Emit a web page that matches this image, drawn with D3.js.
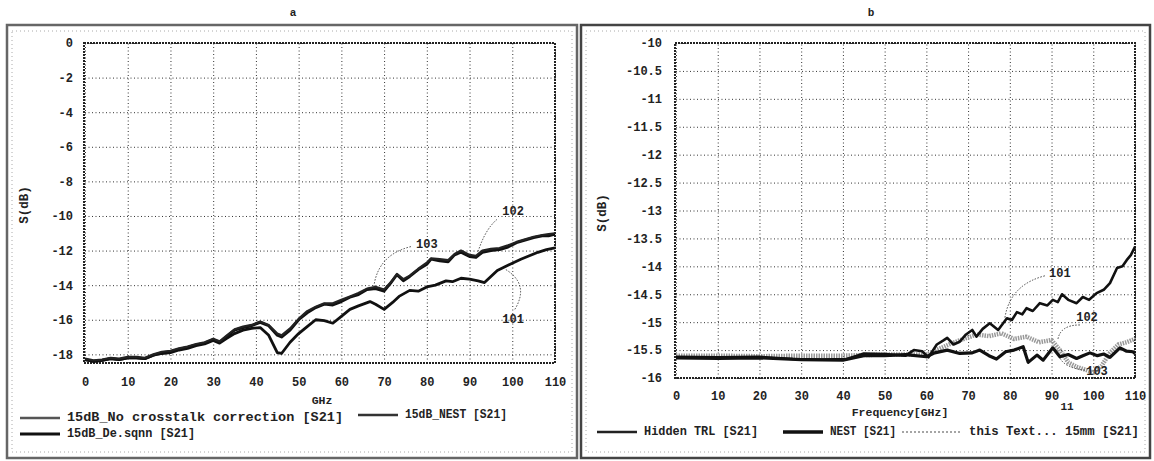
<!DOCTYPE html>
<html>
<head>
<meta charset="utf-8">
<script src="https://cdn.jsdelivr.net/npm/d3@7"></script>
<style>
  body { margin: 0; background: #fff; }
  svg { display: block; }
  text { font-family: "Liberation Mono", "DejaVu Sans Mono", monospace; fill: #222; }
</style>
</head>
<body>
<svg id="fig" width="1154" height="461"></svg>
<script>
// ---- left panel data (frequency GHz, S21 dB) ----
const leftXTicks = [0, 10, 20, 30, 40, 50, 60, 70, 80, 90, 100, 110];
const leftYTicks = [0, -2, -4, -6, -8, -10, -12, -14, -16, -18];

const noCrosstalk = [
  [0,-18.3],[2,-18.4],[4,-18.35],[6,-18.25],[8,-18.3],[10,-18.2],[12,-18.2],[14,-18.25],
  [16,-18.05],[18,-17.9],[20,-17.85],[22,-17.7],[24,-17.6],[26,-17.45],[28,-17.35],[30,-17.15],
  [31.5,-17.3],[33,-17.0],[35,-16.6],[37,-16.45],[39,-16.35],[41,-16.15],[43,-16.35],[45,-16.9],
  [46,-17.0],[48,-16.6],[50,-16.0],[52,-15.6],[54,-15.3],[56,-15.1],[58,-15.15],[60,-14.95],
  [62,-14.7],[64,-14.55],[66,-14.25],[68,-14.2],[70,-14.35],[71.5,-13.9],[73,-13.4],[74.5,-13.75],
  [76,-13.5],[78,-13.1],[80,-12.8],[81,-12.5],[83,-12.6],[85,-12.65],[86.5,-12.25],[88,-12.1],
  [90,-12.35],[91.5,-12.4],[93,-12.1],[95,-12.0],[97,-11.95],[99,-11.8],[101,-11.55],[103,-11.4],
  [105,-11.25],[107,-11.15],[108.5,-11.15],[110,-11.05]
];
const deSqnn = [
  [0,-18.25],[2,-18.35],[4,-18.3],[6,-18.2],[8,-18.25],[10,-18.15],[12,-18.15],[14,-18.2],
  [16,-18.0],[18,-17.85],[20,-17.8],[22,-17.65],[24,-17.55],[26,-17.4],[28,-17.3],[30,-17.1],
  [31.5,-17.25],[33,-16.95],[35,-16.55],[37,-16.4],[39,-16.3],[41,-16.1],[43,-16.3],[45,-16.8],
  [46,-16.9],[48,-16.5],[50,-15.95],[52,-15.5],[54,-15.25],[56,-15.05],[58,-15.05],[60,-14.85],
  [62,-14.65],[64,-14.45],[66,-14.2],[68,-14.1],[70,-14.25],[71.5,-13.85],[73,-13.35],[74.5,-13.65],
  [76,-13.45],[78,-13.05],[80,-12.7],[81,-12.45],[83,-12.5],[85,-12.55],[86.5,-12.2],[88,-12.0],
  [90,-12.25],[91.5,-12.3],[93,-12.0],[95,-11.9],[97,-11.85],[99,-11.7],[101,-11.5],[103,-11.35],
  [105,-11.2],[107,-11.1],[108.5,-11.05],[110,-11.0]
];
const nest = [
  [0,-18.3],[2,-18.4],[4,-18.35],[6,-18.25],[8,-18.3],[10,-18.2],[12,-18.2],[14,-18.25],
  [16,-18.05],[18,-17.95],[20,-17.9],[22,-17.75],[24,-17.65],[26,-17.5],[28,-17.4],[30,-17.2],
  [31.5,-17.35],[33,-17.1],[35,-16.8],[37,-16.6],[39,-16.5],[41,-16.45],[43,-16.9],[45,-17.9],
  [46,-17.95],[48,-17.3],[50,-16.8],[52,-16.4],[54,-16.0],[56,-16.05],[58,-16.2],[60,-15.8],
  [62,-15.4],[64,-15.2],[66.7,-14.95],[68,-15.1],[70,-15.4],[72,-15.0],[73.5,-14.65],[76,-14.3],
  [78,-14.35],[80,-14.1],[82,-14.0],[84.5,-13.75],[86,-13.8],[88,-13.6],[90,-13.65],[92,-13.75],
  [93.5,-13.85],[95,-13.5],[96.5,-13.15],[99,-12.85],[102,-12.5],[104,-12.3],[106,-12.1],
  [108,-11.95],[110,-11.85]
];
const leftLabels = ["15dB_No crosstalk correction [S21]", "15dB_De.sqnn [S21]", "15dB_NEST [S21]"];
// label text, label pos, leader start, control, end (data units)
const leftNotes = [
  {t: "102", at: [100.2,-9.75], p: [[96.4,-10.2],[93.6,-10.8],[92,-12.06]]},
  {t: "103", at: [80,-11.65], p: [[76.3,-11.77],[68.6,-12.23],[67.6,-14.08]]},
  {t: "101", at: [100.2,-15.98], p: [[98.5,-13.1],[104.1,-13.96],[100.6,-15.4]]}
];

// ---- right panel data ----
const rightXTicks = [0, 10, 20, 30, 40, 50, 60, 70, 80, 90, 100, 110];
const rightYTicks = [-10, -10.5, -11, -11.5, -12, -12.5, -13, -13.5, -14, -14.5, -15, -15.5, -16];

const hiddenTrl = [
  [0,-15.62],[10,-15.63],[20,-15.62],[28,-15.66],[35,-15.67],[41,-15.66],[45,-15.56],[50,-15.57],
  [55,-15.6],[57,-15.5],[59,-15.52],[60.5,-15.63],[62.5,-15.4],[64,-15.33],[65,-15.28],[66.5,-15.4],
  [68,-15.35],[69.5,-15.22],[71,-15.14],[72,-15.26],[73.5,-15.12],[75.2,-15.02],[77.2,-15.14],
  [79.3,-14.93],[80.5,-14.96],[81.7,-14.82],[83,-14.86],[84,-14.75],[85.5,-14.8],[87.2,-14.66],
  [89,-14.7],[90.3,-14.6],[91.5,-14.64],[92.5,-14.5],[94,-14.6],[96,-14.66],[97.5,-14.55],
  [99,-14.6],[100.8,-14.48],[102.5,-14.42],[104,-14.3],[105.7,-14.03],[107,-14.0],[108,-13.89],
  [109,-13.8],[110,-13.65]
];
const nestRight = [
  [0,-15.64],[10,-15.65],[20,-15.64],[30,-15.67],[40,-15.68],[45,-15.6],[50,-15.6],[55,-15.58],
  [60,-15.62],[62,-15.55],[65,-15.5],[68,-15.56],[71,-15.55],[72.8,-15.5],[75,-15.6],[76.8,-15.66],
  [79,-15.53],[81,-15.5],[83.2,-15.44],[84.4,-15.72],[86.5,-15.59],[88,-15.68],[90.3,-15.46],
  [92,-15.62],[94,-15.58],[96,-15.65],[97.5,-15.6],[99.2,-15.55],[101,-15.6],[102.5,-15.57],
  [104,-15.63],[106.4,-15.46],[108,-15.52],[109.5,-15.53],[110,-15.56]
];
const thruTest = [
  [0,-15.6],[10,-15.6],[20,-15.61],[30,-15.6],[40,-15.6],[50,-15.58],[60,-15.58],[63,-15.48],
  [66,-15.38],[69,-15.3],[72,-15.22],[75,-15.25],[78,-15.2],[81,-15.3],[84,-15.26],[87,-15.36],
  [90,-15.32],[92,-15.5],[94,-15.72],[96,-15.8],[98,-15.85],[100,-15.9],[102,-15.78],[104,-15.55],
  [106,-15.4],[108,-15.36],[110,-15.3]
];
const rightLabels = ["Hidden TRL [S21]", "NEST [S21]", "this Text... 15mm [S21]"];
const rightNotes = [
  {t: "101", at: [92,-14.14], p: [[88.4,-14.17],[80,-14.33],[78.8,-14.93]]},
  {t: "102", at: [98.5,-14.93], p: [[96.8,-15.05],[92,-15.05],[91.5,-15.32]]},
  {t: "103", at: [100.9,-15.89], p: [[98,-15.86],[93.2,-15.82],[92,-15.64]]}
];

const svg = d3.select('#fig');

// outer frames
function frame(x0, y0, x1, y1, dark) {
  svg.append('rect')
    .attr('x', x0).attr('y', y0).attr('width', x1 - x0).attr('height', y1 - y0)
    .attr('fill', 'none').attr('stroke', dark).attr('stroke-width', 2.5);
  svg.append('rect')
    .attr('x', x0 + 5).attr('y', y0 + 6).attr('width', x1 - x0 - 10).attr('height', y1 - y0 - 12)
    .attr('fill', 'none').attr('stroke', '#aaa').attr('stroke-width', 1)
    .attr('stroke-dasharray', '1,3');
}
frame(7, 25, 577, 458, '#666');
frame(581, 25, 1150, 458, '#444');

function drawPanel(o) {
  let xScale = d3.scaleLinear().domain([0, 110]).range([o.left, o.right]);
  let yScale = d3.scaleLinear().domain(o.yDomain).range([o.bottom, o.top]);
  let w = o.right - o.left, h = o.bottom - o.top;

  // grid via axes
  let gx = svg.append('g')
    .attr('transform', `translate(0,${o.bottom})`)
    .call(d3.axisBottom(xScale).tickValues(o.xTicks).tickSize(-h).tickPadding(o.xPad)
      .tickFormat(d => String(d)));
  let gy = svg.append('g')
    .attr('transform', `translate(${o.left},0)`)
    .call(d3.axisLeft(yScale).tickValues(o.yTicks).tickSize(-w).tickPadding(o.yPad)
      .tickFormat(d => String(d)));
  [gx, gy].forEach(g => {
    g.select('.domain').remove();
    g.selectAll('line').attr('stroke', '#333').attr('stroke-width', 1).attr('stroke-dasharray', '1,2.5');
    g.selectAll('text').attr('font-size', 12).attr('font-weight', 'bold')
      .attr('font-family', '"Liberation Mono", monospace').attr('fill', '#333');
  });

  // plot frame
  svg.append('rect')
    .attr('x', o.left - 1).attr('y', o.top).attr('width', w + 1).attr('height', h)
    .attr('fill', 'none').attr('stroke', '#222').attr('stroke-width', 2)
    .attr('stroke-dasharray', '2,1');

  let line = d3.line().x(d => xScale(d[0])).y(d => yScale(d[1])).curve(d3.curveLinear);
  o.series.forEach(s => {
    svg.append('path').datum(s.data)
      .attr('fill', 'none').attr('stroke', s.color).attr('stroke-width', s.width)
      .attr('stroke-dasharray', s.dash || null)
      .attr('stroke-linejoin', 'round')
      .attr('d', line);
  });

  // leaders and reference numerals
  o.notes.forEach(n => {
    let p = n.p.map(q => [xScale(q[0]), yScale(q[1])]);
    let path = d3.path();
    path.moveTo(p[0][0], p[0][1]);
    path.quadraticCurveTo(p[1][0], p[1][1], p[2][0], p[2][1]);
    svg.append('path').attr('d', path.toString())
      .attr('fill', 'none').attr('stroke', '#444').attr('stroke-width', 1)
      .attr('stroke-dasharray', '1.5,1.5');
    svg.append('text')
      .attr('x', xScale(n.at[0])).attr('y', yScale(n.at[1]))
      .attr('text-anchor', 'middle').attr('dominant-baseline', 'middle')
      .attr('font-size', 12).attr('font-weight', 'bold').attr('fill', '#444').text(n.t);
  });

  // axis titles
  svg.append('text')
    .attr('transform', `translate(${o.yLabelX},${o.yLabelY}) rotate(-90)`)
    .attr('text-anchor', 'middle').attr('dominant-baseline', 'middle')
    .attr('font-size', 12.5).attr('font-weight', 'bold').attr('fill', '#333').text('S(dB)');
  svg.append('text')
    .attr('x', o.xLabelX).attr('y', o.xLabelY)
    .attr('text-anchor', 'middle').attr('dominant-baseline', 'middle')
    .attr('font-size', 11.5).attr('font-weight', 'bold').attr('fill', '#333').text(o.xLabel);
  svg.append('text')
    .attr('x', o.titleX).attr('y', 13)
    .attr('text-anchor', 'middle').attr('dominant-baseline', 'middle')
    .attr('font-size', 11).attr('font-weight', 'bold').text(o.title);
}

drawPanel({
  left: 85, right: 555, top: 43, bottom: 363, yDomain: [-18.5, 0],
  xTicks: leftXTicks, yTicks: leftYTicks, xPad: 14, yPad: 12,
  series: [
    {data: nest, color: '#111', width: 2.8},
    {data: noCrosstalk, color: '#111', width: 2.8},
    {data: deSqnn, color: '#222', width: 2.2}
  ],
  notes: leftNotes,
  yLabelX: 25, yLabelY: 205, xLabelX: 322, xLabelY: 401, xLabel: 'GHz',
  title: 'a', titleX: 293
});

drawPanel({
  left: 676, right: 1135, top: 43, bottom: 378, yDomain: [-16, -10],
  xTicks: rightXTicks, yTicks: rightYTicks, xPad: 13, yPad: 14,
  series: [
    {data: thruTest, color: '#999', width: 4.5, dash: '1.5,1'},
    {data: hiddenTrl, color: '#111', width: 2.6},
    {data: nestRight, color: '#111', width: 3.2}
  ],
  notes: rightNotes,
  yLabelX: 603, yLabelY: 213, xLabelX: 900, xLabelY: 413, xLabel: 'Frequency[GHz]',
  title: 'b', titleX: 871
});

svg.append('text').attr('x', 1067).attr('y', 407).attr('text-anchor', 'middle')
  .attr('dominant-baseline', 'middle').attr('font-size', 11).attr('font-weight', 'bold').text('11');

// legends
function legendItem(x, y, len, label, style, textW) {
  svg.append('line').attr('x1', x).attr('x2', x + len).attr('y1', y).attr('y2', y)
    .attr('stroke', style.color).attr('stroke-width', style.width)
    .attr('stroke-dasharray', style.dash || null);
  let t = svg.append('text').attr('x', x + len + 7).attr('y', y)
    .attr('dominant-baseline', 'middle').attr('font-size', 12).attr('font-weight', 'bold')
    .attr('fill', '#333').text(label);
  if (textW) t.attr('textLength', textW).attr('lengthAdjust', 'spacingAndGlyphs');
}
legendItem(20, 418, 40, leftLabels[0], {color: '#555', width: 2.5}, 276);
legendItem(20, 434, 40, leftLabels[1], {color: '#111', width: 3}, 128);
legendItem(358, 415, 40, leftLabels[2], {color: '#333', width: 2.5}, 102);
legendItem(597, 432, 40, rightLabels[0], {color: '#222', width: 2.5}, 114);
legendItem(783, 432, 40, rightLabels[1], {color: '#111', width: 3.5}, 66);
legendItem(902, 432, 60, rightLabels[2], {color: '#888', width: 1.5, dash: '2,2'}, 170);
</script>
</body>
</html>
